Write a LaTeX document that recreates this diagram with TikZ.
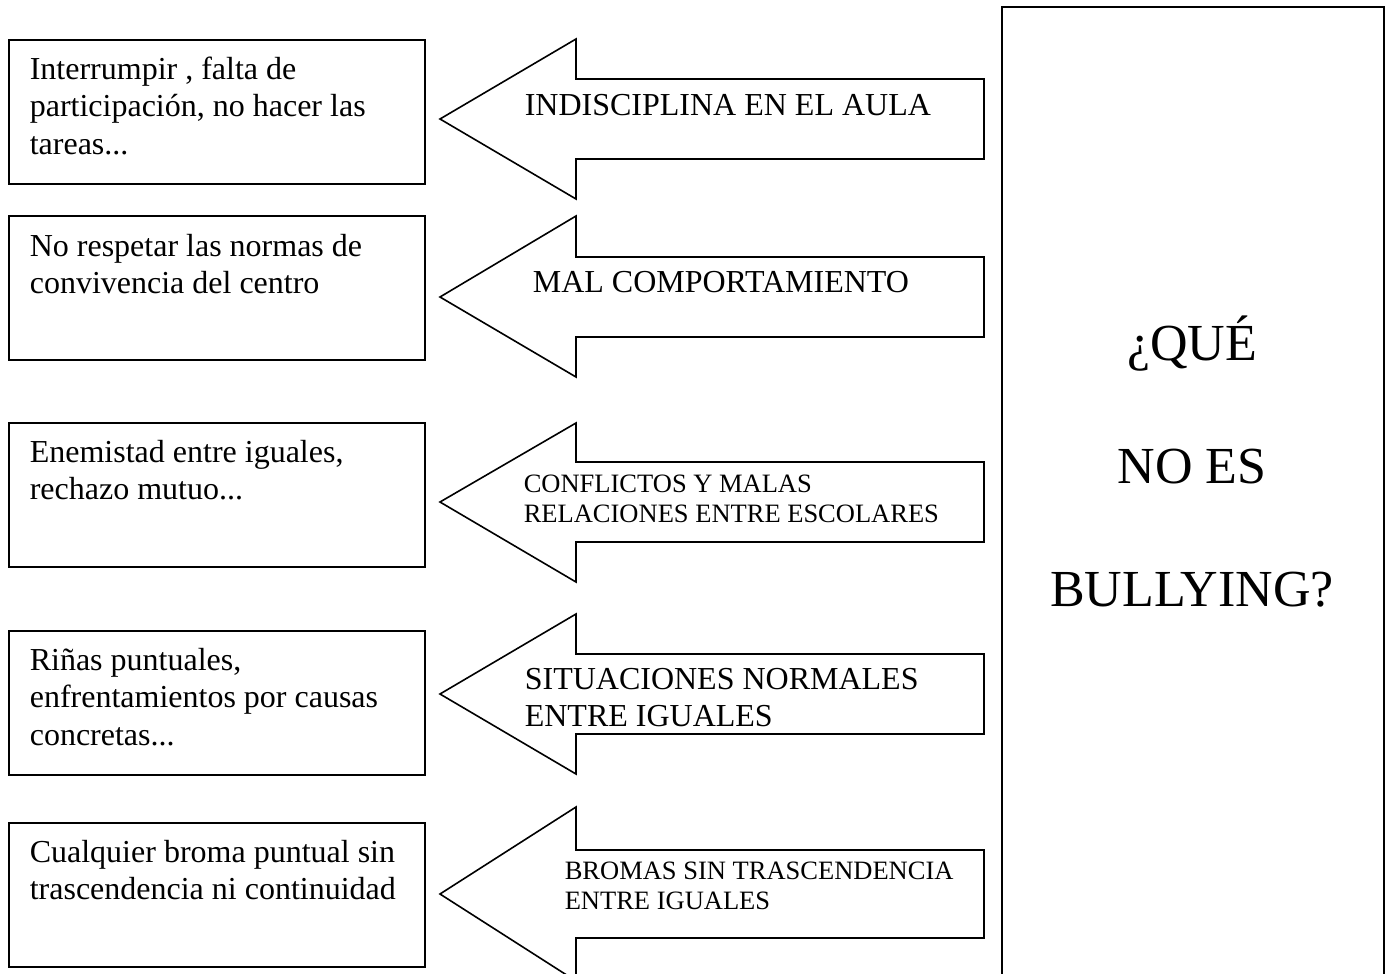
\documentclass[tikz,border=0pt]{standalone}
\usepackage{fontspec}
\setmainfont{Liberation Serif}
\begin{document}
\begin{tikzpicture}[x=1pt,y=-1pt,line width=1.6pt,line join=miter]
\tikzset{
  framebox/.style={draw, anchor=north west, inner sep=0pt, minimum width=416pt, minimum height=144pt},
  boxtext/.style={anchor=base west, inner sep=0pt, align=left, font=\fontsize{32}{37.5}\selectfont},
  arrowtext/.style={anchor=base west, inner sep=0pt, align=left, font=\fontsize{32}{37}\selectfont},
  smalltext/.style={anchor=base west, inner sep=0pt, align=left, font=\fontsize{26.5}{30}\selectfont},
  titletext/.style={anchor=base, inner sep=0pt, align=center, font=\fontsize{52}{123}\selectfont},
  arrowshape/.style={draw, line join=miter}
}
\useasboundingbox (0,0) rectangle (1387,974);
\begin{scope}
\clip (0,0) rectangle (1387,974);
% big right box
\draw (1002,7) rectangle (1384,1000);
% arrows: shaft top, head top, tip, head bottom, shaft bottom
\draw[arrowshape] (984,79) -- (576,79) -- (576,39) -- (440,119) -- (576,199) -- (576,159) -- (984,159) -- cycle;
\draw[arrowshape] (984,257) -- (576,257) -- (576,216) -- (440,297) -- (576,377) -- (576,337) -- (984,337) -- cycle;
\draw[arrowshape] (984,462) -- (576,462) -- (576,423) -- (440,502) -- (576,582) -- (576,542) -- (984,542) -- cycle;
\draw[arrowshape] (984,654) -- (576,654) -- (576,614) -- (440,694) -- (576,774) -- (576,734) -- (984,734) -- cycle;
\draw[arrowshape] (984,850) -- (576,850) -- (576,807) -- (440,894) -- (576,981) -- (576,938) -- (984,938) -- cycle;
\end{scope}
% left boxes
\node[framebox] (b1) at (8,39) {};
\node[framebox] (b2) at (8,215) {};
\node[framebox] (b3) at (8,422) {};
\node[framebox] (b4) at (8,630) {};
\node[framebox] (b5) at (8,822) {};
% left box texts (anchored at the baseline of their last line)
\node[boxtext] (t1) at (29,154) {Interrumpir , falta de\\participación, no hacer las\\tareas...};
\node[boxtext] (t2) at (29,293.5) {No respetar las normas de\\convivencia del centro};
\node[boxtext] (t3) at (29,499.5) {Enemistad entre iguales,\\rechazo mutuo...};
\node[boxtext] (t4) at (29,745) {Riñas puntuales,\\enfrentamientos por causas\\concretas...};
\node[boxtext] (t5) at (29,899.5) {Cualquier broma puntual sin\\trascendencia ni continuidad};
% arrow texts
\node[arrowtext] (a1) at (524,115) {INDISCIPLINA EN EL AULA};
\node[arrowtext] (a2) at (532,292) {MAL COMPORTAMIENTO};
\node[smalltext] (a3) at (523,522) {CONFLICTOS Y MALAS\\RELACIONES ENTRE ESCOLARES};
\node[arrowtext] (a4) at (524,726) {SITUACIONES NORMALES\\ENTRE IGUALES};
\node[smalltext] (a5) at (564,909) {BROMAS SIN TRASCENDENCIA\\ENTRE IGUALES};
% title
\node[titletext] (title) at (1192,606) {¿QUÉ\\NO ES\\BULLYING?};
\end{tikzpicture}
\end{document}
